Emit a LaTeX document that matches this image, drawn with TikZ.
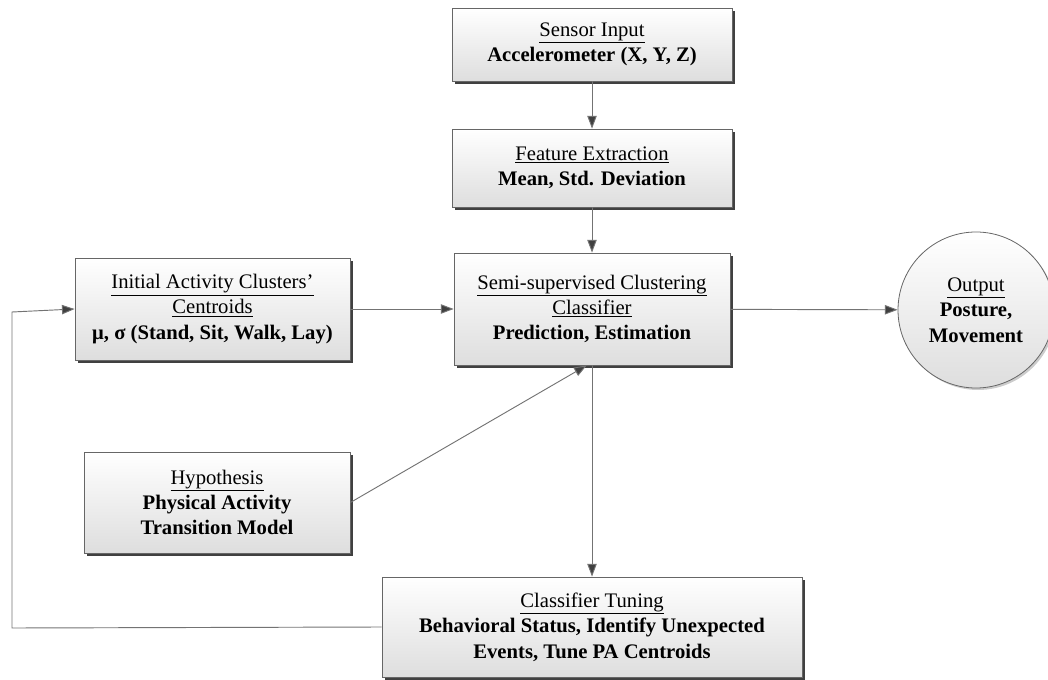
\documentclass[tikz,border=0pt]{standalone}
\usepackage{fontspec}
\setmainfont{Liberation Serif}
\usetikzlibrary{arrows.meta,shadows,calc}
\begin{document}
\begin{tikzpicture}[x=0.75pt,y=-0.75pt,
  boxstyle/.style={draw=black!60, line width=0.6pt, top color=white, bottom color=black!13,
    align=center, font=\fontsize{15.5}{19}\selectfont, inner sep=2pt,
    drop shadow={shadow xshift=2.2pt, shadow yshift=-2.2pt, fill=black!75, opacity=1}},
  circstyle/.style={circle, draw=black!60, line width=0.6pt, top color=white, bottom color=black!13,
    align=center, font=\fontsize{15.5}{19}\selectfont, inner sep=0pt, minimum size=117pt,
    drop shadow={shadow xshift=1.5pt, shadow yshift=-1.5pt, fill=black!20, opacity=1}},
  conn/.style={draw=black!55, line width=0.7pt},
  arr/.style={conn, -{Triangle[length=9.5pt,width=7pt,fill=black!75]}}]
\useasboundingbox (0,0) rectangle (1048,680);
\node[boxstyle, minimum width=210pt, minimum height=54.75pt] (sensor) at (592,44.5)
  {\underline{Sensor Input}\\\textbf{Accelerometer (X, Y, Z)}};
\node[boxstyle, minimum width=210pt, minimum height=58.5pt] (feature) at (592,168)
  {\underline{Feature Extraction}\\\textbf{Mean, Std. Deviation}};
\node[boxstyle, minimum width=207pt, minimum height=84pt] (semi) at (592,309)
  {\underline{Semi-supervised Clustering}\\\underline{Classifier}\\\textbf{Prediction, Estimation}};
\node[boxstyle, minimum width=206.25pt, minimum height=76.5pt] (init) at (212.5,309)
  {\underline{Initial Activity Clusters'}\\\underline{Centroids}\\\textbf{μ, σ (Stand, Sit, Walk, Lay)}};
\node[boxstyle, minimum width=199.5pt, minimum height=75.75pt] (hyp) at (217,502.5)
  {\underline{Hypothesis}\\\textbf{Physical Activity}\\\textbf{Transition Model}};
\node[boxstyle, minimum width=315pt, minimum height=75pt] (tune) at (592,627)
  {\underline{Classifier Tuning}\\\textbf{Behavioral Status, Identify Unexpected}\\\textbf{Events, Tune PA Centroids}};
\node[circstyle] (out) at (976,310)
  {\underline{Output}\\\textbf{Posture,}\\\textbf{Movement}};
\coordinate (lb) at (12,628);
\coordinate (lt) at (12,312);
\draw[arr] (sensor) -- (feature);
\draw[arr] (feature) -- (semi);
\draw[arr] (init) -- (semi);
\draw[arr] (semi) -- (out);
\draw[arr] (hyp.east) -- ([xshift=-4pt]semi.south);
\draw[arr] (semi) -- (tune);
\draw[arr] (tune.west) -- (lb) -- (lt) -- (init.west);
\end{tikzpicture}
\end{document}
